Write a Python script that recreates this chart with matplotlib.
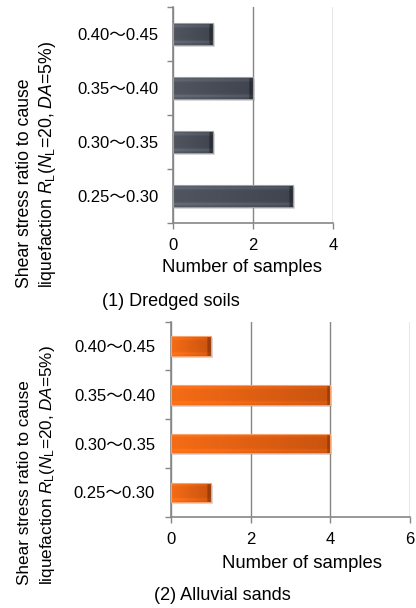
import numpy as np
import matplotlib
matplotlib.use("Agg")
import matplotlib.pyplot as plt
from matplotlib import patheffects as pe
from matplotlib.colors import to_rgb

# ---- data ----
categories = ["0.25～0.30", "0.30～0.35", "0.35～0.40", "0.40～0.45"]
dredged_counts = [3, 1, 2, 1]
alluvial_counts = [1, 4, 4, 1]
dredged_xticks = [0, 2, 4]
alluvial_xticks = [0, 2, 4, 6]
ylabel_line1 = "Shear stress ratio to cause"
ylabel_line2 = r"liquefaction $\mathit{R}_\mathrm{L}$($\mathit{N}_\mathrm{L}$=20, $\mathit{DA}$=5%)"
xlabel = "Number of samples"
captions = ["(1) Dredged soils", "(2) Alluvial sands"]

plt.rcParams["font.family"] = ["Liberation Sans", "Noto Sans CJK JP", "DejaVu Sans"]
plt.rcParams["mathtext.fontset"] = "custom"
plt.rcParams["mathtext.rm"] = "Liberation Sans"
plt.rcParams["mathtext.it"] = "Liberation Sans:italic"

W, H = 416, 608
fig = plt.figure(figsize=(W / 100, H / 100), dpi=100)

GRID = "#868686"


def px(x, y):
    return x / W, 1 - y / H


def make_axes(left, right, top, bottom):
    return fig.add_axes([left / W, 1 - bottom / H, (right - left) / W, (bottom - top) / H])


def bar_image(style, x0, w, units_per_px, nx=300, ny=60):
    tx = np.linspace(0, 1, nx)
    xs = x0 + tx * w
    ty = np.linspace(0, 1, ny)
    cap = (x0 + w - xs) < 3.5 * units_per_px
    if style == "gray":
        c0 = np.array(to_rgb("#50555f"))
        c1 = np.array(to_rgb("#3f444e"))
        capc = np.array(to_rgb("#2a2d33"))
        vert = 1 + 0.30 * np.exp(-((ty - 0.13) / 0.07) ** 2) + 0.25 * np.exp(-((ty - 0.87) / 0.07) ** 2)
    else:
        c0 = np.array(to_rgb("#f56c16"))
        c1 = np.array(to_rgb("#c9530f"))
        capc = np.array(to_rgb("#9c3d0b"))
        vert = 1 + 0.10 * np.exp(-((ty - 0.12) / 0.07) ** 2) + 0.08 * np.exp(-((ty - 0.88) / 0.07) ** 2)
    row = c0[None, :] * (1 - tx[:, None]) + c1[None, :] * tx[:, None]
    row[cap] = capc
    img = row[None, :, :] * vert[:, None, None]
    return np.clip(img, 0, 1)


def draw_panel(ax, counts, xticks, style, ytick_pad):
    y = np.arange(len(categories)) + 0.5
    base = "#4a505b" if style == "gray" else "#ef6412"
    edge = "#9a9ea6" if style == "gray" else "#f8a36c"
    bars = ax.barh(y, counts, height=0.4, color=base, zorder=2.5,
                   path_effects=[pe.SimplePatchShadow(offset=(1.5, -1.5), shadow_rgbFace="#999999", alpha=0.35),
                                 pe.Normal()])
    xmax = xticks[-1]
    bbox = ax.get_position()
    units_per_px = xmax / (bbox.width * W)
    for p in bars.patches:
        img = bar_image(style, p.get_x(), p.get_width(), units_per_px)
        im = ax.imshow(img, extent=[p.get_x(), p.get_x() + p.get_width(), p.get_y(), p.get_y() + p.get_height()],
                       origin="lower", aspect="auto", interpolation="bilinear", zorder=3)
        im.set_clip_path(p)
    ax.barh(y, counts, height=0.4, fill=False, edgecolor=edge, linewidth=0.8, zorder=4)

    ax.set_xlim(0, xmax)
    ax.set_ylim(0, len(categories))
    ax.set_aspect("auto")
    ax.set_xticks(xticks)
    ax.set_xticklabels([str(t) for t in xticks], fontsize=12)
    ax.set_yticks(np.arange(len(categories) + 1))
    ax.set_yticklabels([])
    ax.set_yticks(y, minor=True)
    ax.set_yticklabels(categories, minor=True, fontsize=12)
    ax.tick_params(axis="y", which="minor", length=0, pad=ytick_pad)
    ax.tick_params(axis="y", which="major", length=4, width=1, color=GRID, direction="out")
    ax.tick_params(axis="x", length=4, width=1, color=GRID, direction="out", pad=7)
    ax.grid(axis="x", color=GRID, linewidth=1)
    ax.set_axisbelow(True)
    for s in ("top", "right"):
        ax.spines[s].set_visible(False)
    for s in ("left", "bottom"):
        ax.spines[s].set_color(GRID)
        ax.spines[s].set_linewidth(1.2)


ax1 = make_axes(173.3, 333, 7, 223)
draw_panel(ax1, dredged_counts, dredged_xticks, "gray", 10.8)
ax2 = make_axes(171, 410, 321.7, 516.7)
draw_panel(ax2, alluvial_counts, alluvial_xticks, "orange", 11.5)

# axis titles and captions
fig.text(*px(242, 267), xlabel, fontsize=13.3, ha="center", va="center")
fig.text(*px(302, 564), xlabel, fontsize=13.3, ha="center", va="center")
fig.text(*px(171, 301), captions[0], fontsize=13, ha="center", va="center")
fig.text(*px(222, 595), captions[1], fontsize=13, ha="center", va="center")

for ybase, fs in ((288, 12.7), (585, 12.3)):
    fig.text(*px(25, ybase), ylabel_line1, fontsize=fs, rotation=90, ha="center", va="bottom")
    fig.text(*px(48, ybase), ylabel_line2, fontsize=fs, rotation=90, ha="center", va="bottom")

fig.savefig("out.png", dpi=100)
